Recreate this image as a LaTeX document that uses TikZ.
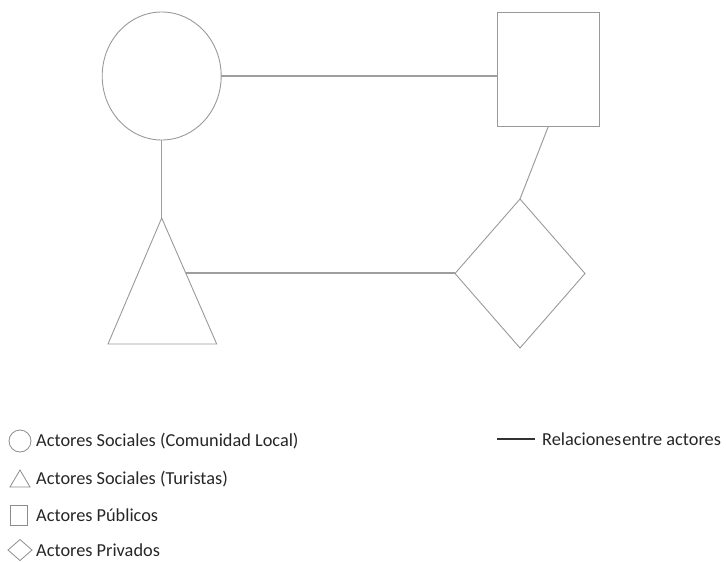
\documentclass[tikz,border=0pt]{standalone}
\usepackage{fontspec}
\setmainfont{Carlito}
\usetikzlibrary{shapes.geometric,calc}
\tikzset{
  shp/.style={draw=black!40, line width=0.9pt, inner sep=0pt, outer sep=0pt},
  conn/.style={draw=black!38, line width=1.7pt},
  connthin/.style={draw=black!38, line width=1pt},
  icon/.style={draw=black!45, line width=0.8pt, inner sep=0pt, outer sep=0pt},
  lab/.style={anchor=west, inner sep=0pt, font=\fontsize{18.3}{21}\selectfont, text=black!85},
}
\begin{document}
\begin{tikzpicture}[x=1pt,y=-1pt]
\useasboundingbox (0,0) rectangle (726,562);
% main shapes
\node[shp, ellipse, minimum width=119pt, minimum height=128pt] (circ) at (161.7,76) {};
\node[shp, rectangle, minimum width=102pt, minimum height=114pt] (sq) at (548.5,69) {};
\node[shp, diamond, aspect=0.87, minimum width=130pt, minimum height=149pt] (dia) at (520,273.5) {};
\coordinate (trA) at (161.7,218);
\coordinate (trL) at (108,344);
\coordinate (trR) at (216.7,344);
\draw[shp] (trA) -- (trR) -- (trL) -- cycle;
\coordinate (trE) at ($(trA)!0.434!(trR)$);
% connectors
\draw[conn] (circ.east) -- (circ.east -| sq.west);
\draw[connthin] (circ.south) -- (trA);
\draw[connthin] (sq.south) -- (dia.north);
\draw[conn] (trE) -- (trE -| dia.west);
% legend
\node[icon, circle, minimum size=22pt] (lc) at (20,441) {};
\coordinate (ltA) at (20,470);
\coordinate (ltL) at (10,487);
\coordinate (ltR) at (30,487);
\draw[icon] (ltA) -- (ltR) -- (ltL) -- cycle;
\node[icon, rectangle, minimum width=17pt, minimum height=20pt] (ls) at (18.5,515) {};
\node[icon, diamond, minimum width=24pt, minimum height=21pt] (ld) at (20,550) {};
\node[lab] (t1) at (36,441) {Actores Sociales (Comunidad Local)};
\node[lab] (t2) at (36,479) {Actores Sociales (Turistas)};
\node[lab] (t3) at (36,515) {Actores Públicos};
\node[lab] (t4) at (36,550) {Actores Privados};
\coordinate (lineA) at (497,439);
\coordinate (lineB) at (535,439);
\draw[draw=black!80, line width=2.6pt] (lineA) -- (lineB);
\node[lab] (t5) at (542,439) {Relaciones\hspace{1pt}entre actores};
\end{tikzpicture}
\end{document}
